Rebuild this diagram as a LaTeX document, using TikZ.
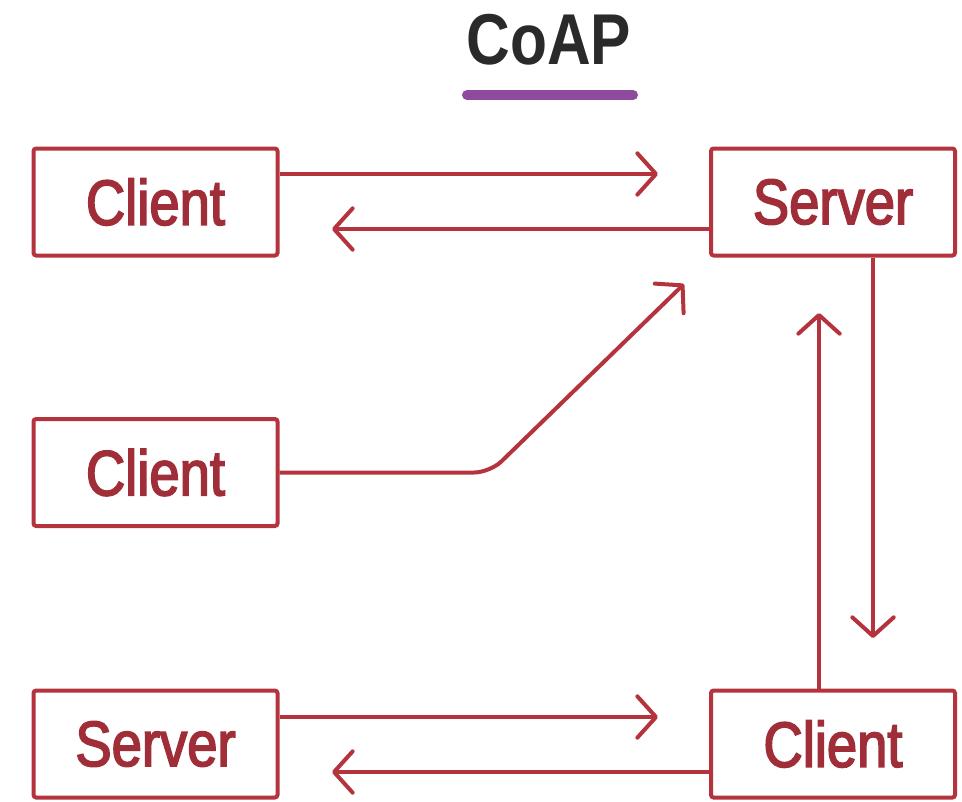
\documentclass[tikz,border=0pt]{standalone}
\usepackage{fontspec}
\usetikzlibrary{arrows.meta}
\newfontfamily\boxfont[FakeStretch=0.85,FakeBold=2.5]{Liberation Sans}
\newfontfamily\titlefont[FakeStretch=0.84]{Liberation Sans Bold}
\definecolor{boxred}{HTML}{B5333D}
\definecolor{textred}{HTML}{A02E39}
\definecolor{titlegray}{HTML}{2A2A2A}
\definecolor{ulpurple}{HTML}{8E4B9E}
\tikzset{
  x=0.75pt, y=-0.75pt,
  entity/.style={draw=boxred, line width=3pt, rounded corners=2pt,
    minimum width=183pt, minimum height=80.25pt, inner sep=0pt,
    text=textred, font=\boxfont\fontsize{48}{48}\selectfont},
  arr/.style={draw=boxred, line width=3pt,
    -{Straight Barb[length=14pt,width=31pt,round]}},
}
\begin{document}
\begin{tikzpicture}
\useasboundingbox (0,0) rectangle (962,801);
\fill[white] (0,0) rectangle (962,801);
% title
\node[text=titlegray, font=\titlefont\fontsize{54}{54}\selectfont, inner sep=0pt] (title) at (549,40) {CoAP};
\coordinate (ulA) at (467,95);
\coordinate (ulB) at (633,95);
\draw[ulpurple, line width=7.5pt, line cap=round] (ulA) -- (ulB);
% boxes
\node[entity] (c1) at (155.5,202) {Client};
\node[entity] (s1) at (833,202) {Server};
\node[entity] (c2) at (155.5,472.5) {Client};
\node[entity] (s3) at (155.5,744) {Server};
\node[entity] (c3) at (833,744) {Client};
% arrow tips
\coordinate (t1) at (658,174);
\coordinate (t2) at (332,229);
\coordinate (bend) at (490,472.5);
\coordinate (t3) at (684,284);
\coordinate (t4) at (873,638);
\coordinate (t5) at (819,313);
\coordinate (t6) at (658,717);
\coordinate (t7) at (332,772);
% connectors
\draw[arr] (c1.east |- t1) -- (t1);
\draw[arr] (s1.west |- t2) -- (t2);
\draw[arr, rounded corners=12pt] (c2.east) -- (bend) -- (t3);
\draw[arr] (s1.south -| t4) -- (t4);
\draw[arr] (c3.north -| t5) -- (t5);
\draw[arr] (s3.east |- t6) -- (t6);
\draw[arr] (c3.west |- t7) -- (t7);
\end{tikzpicture}
\end{document}
